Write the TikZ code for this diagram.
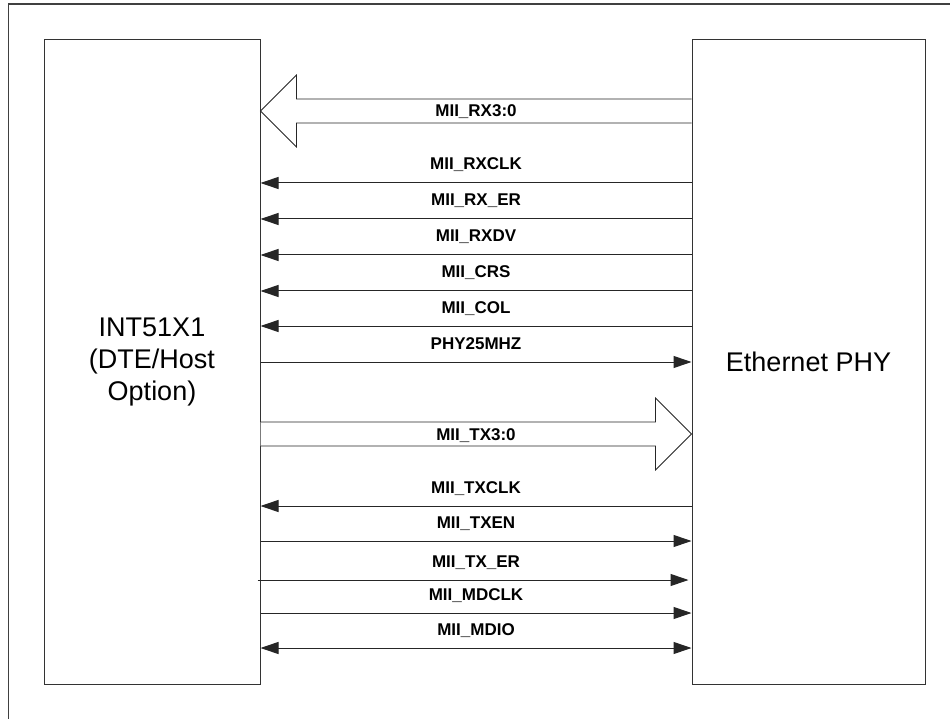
\documentclass[tikz,border=0pt]{standalone}
\usepackage{fontspec}
\setmainfont{Liberation Sans}
\usetikzlibrary{positioning, arrows.meta, calc}

\begin{document}
\begin{tikzpicture}[x=1pt, y=-1pt, >={Triangle[length=18pt, width=12pt]},
    block/.style={draw=black!80, line width=1pt, inner sep=0pt, font=\fontsize{27}{32}\selectfont, align=center},
    sigline/.style={line width=1pt, draw=black!85},
    siglbl/.style={font=\bfseries\fontsize{17}{20}\selectfont, inner sep=0pt, text height=12.5pt, text depth=0pt, anchor=base, yshift=13pt},
    buslbl/.style={font=\bfseries\fontsize{17}{20}\selectfont, inner sep=0pt, anchor=base, yshift=-6pt},
    bus/.style={line width=0.8pt, draw=black!85, fill=white}]
    \clip (0,0) rectangle (950,719);

    % Frame
    \draw[line width=1.5pt, black!75] (8.5,4) rectangle (970,740);

    % Blocks
    \node[block, minimum width=216pt, minimum height=644pt] (host) at (152,362) {INT51X1\\(DTE/Host\\Option)};
    \node[block, minimum width=233pt, minimum height=644pt] (phy) at (808.5,362) {Ethernet PHY};

    % Receive bus
    \draw[bus] (phy.west |- 0,99) -- ($(host.east |- 0,111)+(36,-12)$) -- ($(host.east |- 0,111)+(36,-36)$)
        -- (host.east |- 0,111) -- ($(host.east |- 0,111)+(36,36)$) -- ($(host.east |- 0,111)+(36,12)$) -- (phy.west |- 0,123);
    \path (phy.west |- 0,111) -- (host.east |- 0,111) node[buslbl, midway] {MII\_RX3:0};

    % Receive signals
    \foreach \yy/\sig in {183/MII\_RXCLK, 219/MII\_RX\_ER, 255/MII\_RXDV, 291/MII\_CRS, 326/MII\_COL}
        \draw[sigline, ->] (phy.west |- 0,\yy) -- (host.east |- 0,\yy) node[siglbl, midway] {\sig};

    \draw[sigline, ->] (host.east |- 0,362) -- (phy.west |- 0,362) node[siglbl, midway] {PHY25MHZ};

    % Transmit bus
    \draw[bus] (host.east |- 0,422) -- ($(phy.west |- 0,434)+(-36,-12)$) -- ($(phy.west |- 0,434)+(-36,-36)$)
        -- (phy.west |- 0,434) -- ($(phy.west |- 0,434)+(-36,36)$) -- ($(phy.west |- 0,434)+(-36,12)$) -- (host.east |- 0,446);
    \path (host.east |- 0,434) -- (phy.west |- 0,434) node[buslbl, midway] {MII\_TX3:0};

    % Transmit signals
    \draw[sigline, ->] (phy.west |- 0,506) -- (host.east |- 0,506) node[siglbl, midway] {MII\_TXCLK};
    \draw[sigline, ->] (host.east |- 0,541) -- (phy.west |- 0,541) node[siglbl, midway] {MII\_TXEN};
    \draw[sigline, ->, shorten <=-3pt, shorten >=3pt] (host.east |- 0,580) -- (phy.west |- 0,580) node[siglbl, midway] {MII\_TX\_ER};
    \draw[sigline, ->] (host.east |- 0,613) -- (phy.west |- 0,613) node[siglbl, midway] {MII\_MDCLK};
    \draw[sigline, <->] (host.east |- 0,648) -- (phy.west |- 0,648) node[siglbl, midway] {MII\_MDIO};
\end{tikzpicture}
\end{document}
